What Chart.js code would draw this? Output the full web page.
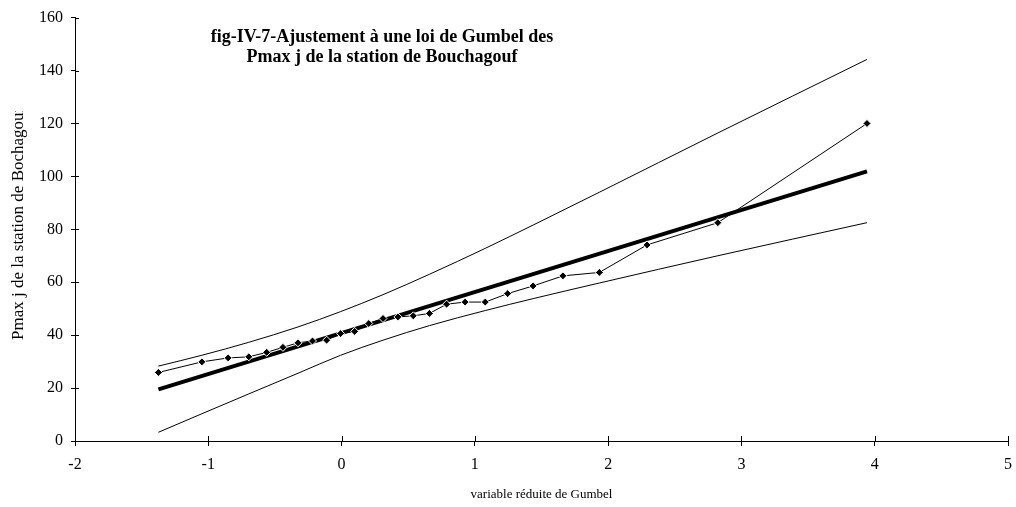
<!DOCTYPE html>
<html>
<head>
<meta charset="utf-8">
<script src="https://cdn.jsdelivr.net/npm/chart.js@4.4.1/dist/chart.umd.min.js"></script>
<style>
  html, body { margin: 0; padding: 0; background: #fff; }
  #wrap { width: 1016px; height: 507px; }
</style>
</head>
<body>
<div id="wrap"><canvas id="gumbel" width="1016" height="507"></canvas></div>
<script>
// Pmax j observés, variable réduite de Gumbel (fréquence de Hazen)
const uObs = [-1.374, -1.048, -0.851, -0.696, -0.562, -0.440, -0.327, -0.218, -0.112, -0.007,
              0.098, 0.204, 0.311, 0.423, 0.538, 0.659, 0.788, 0.927, 1.078, 1.246,
              1.437, 1.661, 1.934, 2.292, 2.823, 3.942];
const pObs = [25.9, 29.9, 31.4, 31.8, 33.5, 35.4, 37.1, 37.8, 38.1, 40.6,
              41.4, 44.4, 46.3, 46.9, 47.3, 48.2, 51.7, 52.5, 52.5, 55.7,
              58.6, 62.4, 63.7, 74.1, 82.5, 120];

// droite de Gumbel ajustée
const uFit = [-1.374, 3.942];
const pFit = [19.5, 101.9];

// intervalle de confiance
const uBand = [-1.374, -1.048, -0.696, -0.327, -0.007, 0.311, 0.659, 1.078, 1.437, 1.934, 2.823, 3.942];
const pUpper = [28.3, 32.4, 37.3, 43.1, 48.9, 55.3, 63.0, 72.8, 81.6, 94.0, 116.4, 144.2];
const pLower = [3.3, 10.3, 17.8, 25.6, 32.4, 38.1, 43.6, 49.3, 53.8, 59.7, 70.0, 82.5];

const xTicks = [-2, -1, 0, 1, 2, 3, 4, 5];
const yTicks = [0, 20, 40, 60, 80, 100, 120, 140, 160];

const titleLines = ['fig-IV-7-Ajustement à une loi de Gumbel des', 'Pmax j de la station de Bouchagouf'];
const yTitle = 'Pmax j de la station de Bochagouf';

const serif = '"Liberation Serif", "Times New Roman", serif';

const pairs = (xs, ys) => xs.map((x, i) => ({ x: x, y: ys[i] }));

// inner tick stubs, the title block and the (clipped) y axis title
const axisDecor = {
    id: 'axisDecor',
    afterDraw(chart) {
        const { ctx, scales: { x, y } } = chart;
        ctx.save();
        ctx.strokeStyle = '#000';
        ctx.lineWidth = 1;
        ctx.beginPath();
        xTicks.forEach(v => {
            const px = Math.round(x.getPixelForValue(v)) + 0.5;
            ctx.moveTo(px, y.bottom);
            ctx.lineTo(px, y.bottom - 5);
        });
        yTicks.forEach(v => {
            const py = Math.round(y.getPixelForValue(v)) + 0.5;
            ctx.moveTo(x.left, py);
            ctx.lineTo(x.left + 4, py);
        });
        ctx.stroke();

        ctx.fillStyle = '#000';
        ctx.font = 'bold 18px ' + serif;
        ctx.textAlign = 'center';
        ctx.textBaseline = 'middle';
        titleLines.forEach((t, i) => ctx.fillText(t, 382, 37 + i * 20));

        // the axis title box is too short for the last letter
        ctx.beginPath();
        ctx.rect(0, 111, 40, 300);
        ctx.clip();
        ctx.translate(19, 340);
        ctx.rotate(-Math.PI / 2);
        ctx.font = '17px ' + serif;
        ctx.textAlign = 'left';
        ctx.fillText(yTitle, 0, 0);
        ctx.restore();
    }
};

new Chart(document.getElementById('gumbel'), {
    type: 'scatter',
    data: {
        datasets: [
            {
                label: 'Pmax j',
                data: pairs(uObs, pObs),
                showLine: true,
                borderColor: '#000',
                borderWidth: 1,
                pointStyle: 'rectRot',
                pointRadius: 4,
                pointBackgroundColor: '#000',
                pointBorderColor: '#fff',
                pointBorderWidth: 1
            },
            {
                label: 'Gumbel',
                data: pairs(uFit, pFit),
                showLine: true,
                borderColor: '#000',
                borderWidth: 4,
                pointRadius: 0
            },
            {
                label: 'borne sup',
                data: pairs(uBand, pUpper),
                showLine: true,
                borderColor: '#000',
                borderWidth: 1,
                cubicInterpolationMode: 'monotone',
                pointRadius: 0
            },
            {
                label: 'borne inf',
                data: pairs(uBand, pLower),
                showLine: true,
                borderColor: '#000',
                borderWidth: 1,
                cubicInterpolationMode: 'monotone',
                pointRadius: 0
            }
        ]
    },
    options: {
        responsive: false,
        animation: false,
        devicePixelRatio: 1,
        layout: { padding: { top: 14, right: 1, bottom: 0, left: 0 } },
        plugins: {
            legend: { display: false },
            tooltip: { enabled: false }
        },
        scales: {
            x: {
                type: 'linear',
                min: -2,
                max: 5,
                afterBuildTicks: s => { s.ticks = xTicks.map(v => ({ value: v })); },
                afterFit: s => {
                    s.height = 66;
                    s.paddingLeft = 0;
                    s.paddingRight = 8;
                },
                border: { display: true, color: '#000', width: 1 },
                grid: { drawOnChartArea: false, color: '#000', tickLength: 5 },
                ticks: { color: '#000', font: { family: serif, size: 16 }, padding: 9, maxRotation: 0 },
                title: {
                    display: true,
                    text: 'variable réduite de Gumbel',
                    color: '#000',
                    font: { family: serif, size: 13 },
                    padding: { top: 0, bottom: 5 }
                }
            },
            y: {
                type: 'linear',
                min: 0,
                max: 160,
                afterBuildTicks: s => { s.ticks = yTicks.map(v => ({ value: v })); },
                afterFit: s => { s.width = 75; },
                border: { display: true, color: '#000', width: 1 },
                grid: { drawOnChartArea: false, color: '#000', tickLength: 4 },
                ticks: { color: '#000', font: { family: serif, size: 16 }, padding: 8 }
            }
        }
    },
    plugins: [axisDecor]
});
</script>
</body>
</html>
